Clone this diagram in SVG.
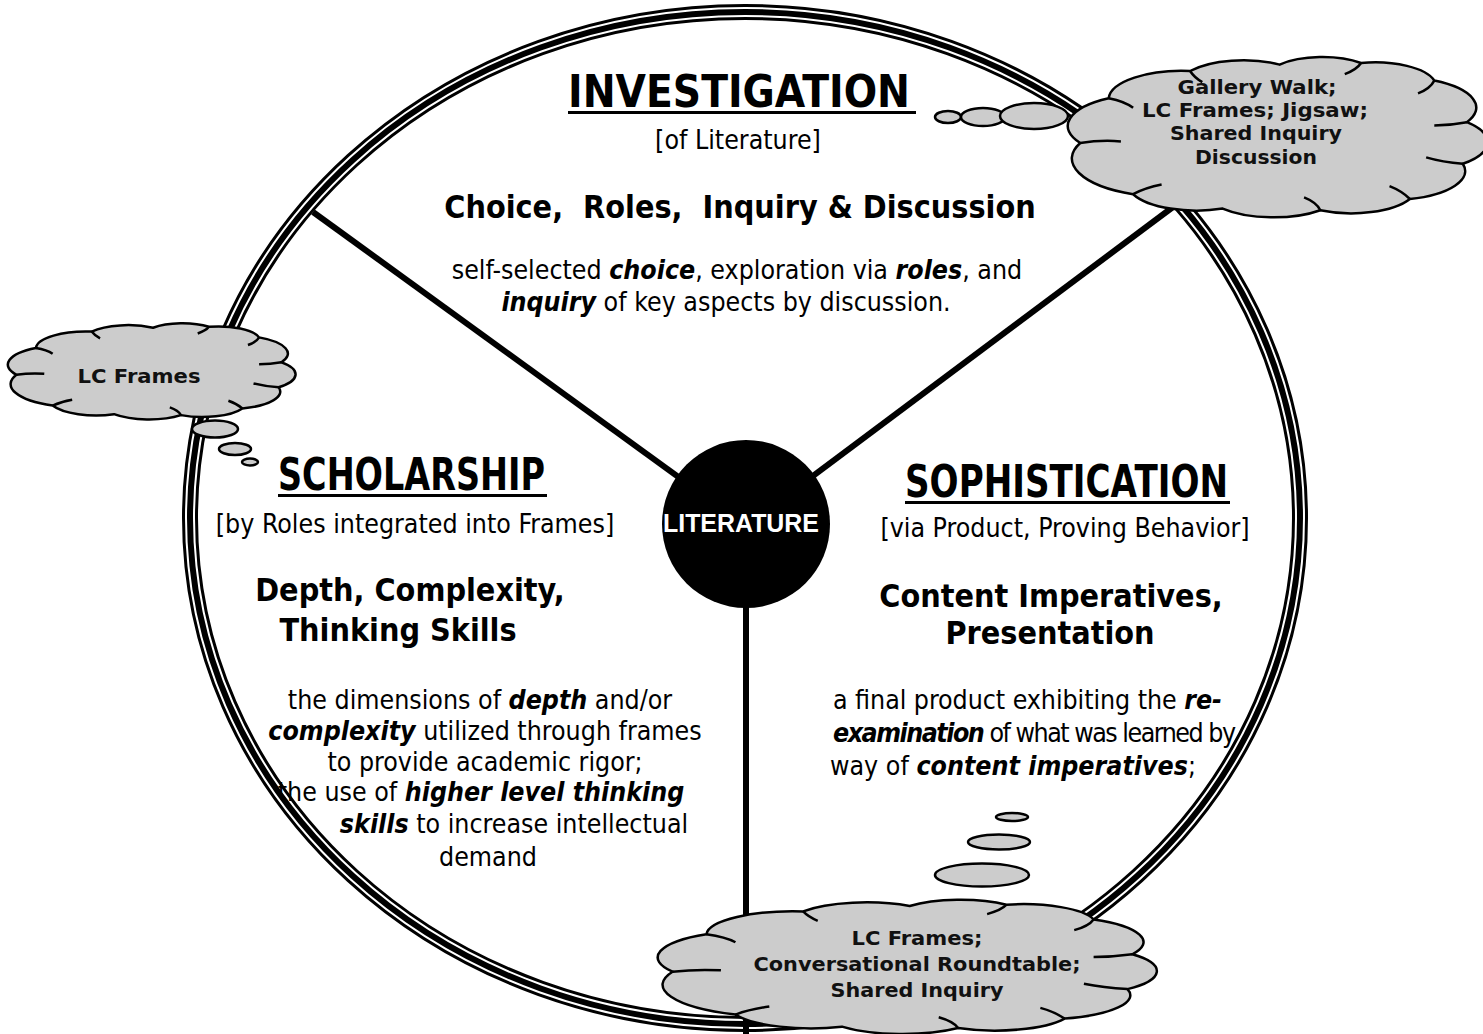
<svg xmlns="http://www.w3.org/2000/svg" xmlns:xlink="http://www.w3.org/1999/xlink" width="1483" height="1034" viewBox="0 0 1483 1034">
<style>
.body{font-family:"DejaVu Sans Condensed","DejaVu Sans",sans-serif;font-size:26.5px;fill:#000}
.head{font-family:"DejaVu Sans Condensed","DejaVu Sans",sans-serif;font-size:32px;font-weight:bold;fill:#000;white-space:pre}
.bi{font-weight:bold;font-style:italic}
.title{font-family:"DejaVu Sans","Liberation Sans",sans-serif;font-size:45px;font-weight:bold;fill:#000}
.cloudtxt{font-family:"DejaVu Sans","Liberation Sans",sans-serif;font-size:20px;font-weight:bold;fill:#111}
.bubble{fill:#cccccc;stroke:#000;stroke-width:2.5}
.cloudShape{fill:#cccccc;stroke:#000;stroke-width:2.5}
.crease{fill:none;stroke:#000;stroke-width:2.5}
.spoke{stroke:#000;stroke-width:6;fill:none}
</style>
<defs>
<symbol id="cloud" viewBox="0 0 100 100" preserveAspectRatio="none" overflow="visible">
<path class="cloudShape" vector-effect="non-scaling-stroke" d="M3,55 A20,20 0 0 1 10,27 A18,18 0 0 1 30,10 A16,16 0 0 1 52,6 A14,14 0 0 1 72,5 A15,15 0 0 1 90,16 A19,19 0 0 1 98,42 A18,18 0 0 1 97,68 A18,18 0 0 1 84,90 A16,16 0 0 1 62,97 A17,17 0 0 1 38,96 A17,17 0 0 1 16,87 A24,24 0 0 1 3,55 Z"/>
<path class="crease" vector-effect="non-scaling-stroke" d="M3,55 Q8,53 13,54 M10,27 Q14,29 16,33 M30,10 Q31,14 33,17 M72,5 Q71,9 68,12 M90,16 Q89,21 86,24 M98,42 Q94,44 90,44 M97,68 Q92,67 88,64 M84,90 Q82,85 79,82 M62,97 Q61,92 58,89 M16,87 Q19,83 23,81"/>
</symbol>
</defs>

<g id="outer-ring">
<ellipse cx="745" cy="518" rx="555" ry="506" fill="none" stroke="#000" stroke-width="16"/>
<ellipse cx="745" cy="518" rx="555" ry="506" fill="none" stroke="#fff" stroke-width="10"/>
<ellipse cx="745" cy="518" rx="555" ry="506" fill="none" stroke="#000" stroke-width="6"/>
</g>

<g id="connectors">
<line class="spoke" x1="313" y1="212" x2="746" y2="526"/>
<line class="spoke" x1="1177" y1="204" x2="746" y2="526"/>
<line class="spoke" x1="746" y1="526" x2="746" y2="1034"/>
</g>

<g id="literature">
<circle cx="746" cy="524" r="84" fill="#000"/>
<text x="741" y="532" text-anchor="middle" font-family="'Liberation Sans','DejaVu Sans',sans-serif" font-size="25" font-weight="bold" fill="#fff" textLength="156" lengthAdjust="spacingAndGlyphs">LITERATURE</text>
</g>

<g id="investigation">
<text class="title" x="568" y="107" textLength="342" lengthAdjust="spacingAndGlyphs">INVESTIGATION</text>
<rect x="568" y="111" width="348" height="3" fill="#000"/>
<text class="body" x="738" y="149" text-anchor="middle">[of Literature]</text>
<text class="head" x="740" y="218" text-anchor="middle">Choice,  Roles,  Inquiry &amp; Discussion</text>
<text class="body" x="737" y="279" text-anchor="middle">self-selected <tspan class="bi">choice</tspan>, exploration via <tspan class="bi">roles</tspan>, and</text>
<text class="body" x="726" y="311" text-anchor="middle"><tspan class="bi">inquiry</tspan> of key aspects by discussion.</text>
</g>

<g id="scholarship">
<text class="title" x="278" y="490" textLength="267" lengthAdjust="spacingAndGlyphs">SCHOLARSHIP</text>
<rect x="278" y="494" width="269" height="3" fill="#000"/>
<text class="body" x="415" y="533" text-anchor="middle">[by Roles integrated into Frames]</text>
<text class="head" x="410" y="601" text-anchor="middle">Depth, Complexity,</text>
<text class="head" x="398" y="641" text-anchor="middle">Thinking Skills</text>
<text class="body" x="480" y="709" text-anchor="middle">the dimensions of <tspan class="bi">depth</tspan> and/or</text>
<text class="body" x="485" y="740" text-anchor="middle"><tspan class="bi">complexity</tspan> utilized through frames</text>
<text class="body" x="485" y="771" text-anchor="middle">to provide academic rigor;</text>
<text class="body" x="481" y="801" text-anchor="middle">the use of <tspan class="bi">higher level thinking</tspan></text>
<text class="body" x="514" y="833" text-anchor="middle"><tspan class="bi">skills</tspan> to increase intellectual</text>
<text class="body" x="488" y="866" text-anchor="middle">demand</text>
</g>

<g id="sophistication">
<text class="title" x="905" y="497" textLength="323" lengthAdjust="spacingAndGlyphs">SOPHISTICATION</text>
<rect x="905" y="501" width="325" height="3" fill="#000"/>
<text class="body" x="1065" y="537" text-anchor="middle">[via Product, Proving Behavior]</text>
<text class="head" x="1051" y="607" text-anchor="middle">Content Imperatives,</text>
<text class="head" x="1050" y="644" text-anchor="middle">Presentation</text>
<text class="body" x="833" y="709" textLength="389" lengthAdjust="spacing">a final product exhibiting the <tspan class="bi">re-</tspan></text>
<text class="body" x="833" y="742" textLength="403" lengthAdjust="spacing"><tspan class="bi">examination</tspan> of what was learned by</text>
<text class="body" x="830" y="775" textLength="366" lengthAdjust="spacing">way of <tspan class="bi">content imperatives</tspan>;</text>
</g>

<g id="cloud-investigation">
<ellipse class="bubble" cx="948" cy="117" rx="13" ry="6"/>
<ellipse class="bubble" cx="983" cy="117" rx="22" ry="9"/>
<ellipse class="bubble" cx="1034" cy="116" rx="34" ry="13"/>
<use xlink:href="#cloud" href="#cloud" x="1068" y="55" width="407" height="160"/>
<text class="cloudtxt" x="1257" y="94" text-anchor="middle" textLength="159" lengthAdjust="spacingAndGlyphs">Gallery Walk;</text>
<text class="cloudtxt" x="1255" y="117" text-anchor="middle" textLength="226" lengthAdjust="spacingAndGlyphs">LC Frames; Jigsaw;</text>
<text class="cloudtxt" x="1256" y="140" text-anchor="middle" textLength="172" lengthAdjust="spacingAndGlyphs">Shared Inquiry</text>
<text class="cloudtxt" x="1256" y="164" text-anchor="middle" textLength="122" lengthAdjust="spacingAndGlyphs">Discussion</text>
</g>

<g id="cloud-scholarship">
<ellipse class="bubble" cx="215" cy="429" rx="23" ry="8.5"/>
<ellipse class="bubble" cx="235" cy="449" rx="16" ry="6"/>
<ellipse class="bubble" cx="250" cy="462" rx="8" ry="3.5"/>
<use xlink:href="#cloud" href="#cloud" x="8" y="322" width="279" height="96"/>
<text class="cloudtxt" x="139" y="383" text-anchor="middle" font-size="21" textLength="123" lengthAdjust="spacingAndGlyphs">LC Frames</text>
</g>

<g id="cloud-sophistication">
<ellipse class="bubble" cx="1012" cy="817" rx="16" ry="4"/>
<ellipse class="bubble" cx="999" cy="842" rx="31" ry="7.5"/>
<ellipse class="bubble" cx="982" cy="875" rx="47" ry="11.5"/>
<use xlink:href="#cloud" href="#cloud" x="658" y="898" width="484" height="134"/>
<text class="cloudtxt" x="917" y="945" text-anchor="middle" textLength="131" lengthAdjust="spacingAndGlyphs">LC Frames;</text>
<text class="cloudtxt" x="917" y="971" text-anchor="middle" textLength="327" lengthAdjust="spacingAndGlyphs">Conversational Roundtable;</text>
<text class="cloudtxt" x="917" y="997" text-anchor="middle" textLength="173" lengthAdjust="spacingAndGlyphs">Shared Inquiry</text>
</g>
</svg>
